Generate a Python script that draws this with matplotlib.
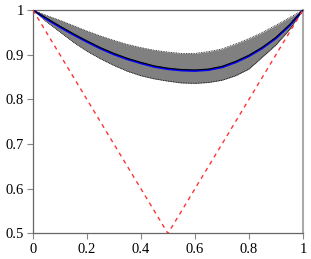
import matplotlib
matplotlib.use("Agg")
import matplotlib.pyplot as plt
from matplotlib import font_manager
import numpy as np

plt.rcParams['font.family'] = 'serif'
plt.rcParams['font.serif'] = ['Liberation Serif', 'Times New Roman', 'DejaVu Serif']

# sample points along x
xs = [0.0, 0.05, 0.1, 0.15, 0.2, 0.25, 0.3, 0.35, 0.4, 0.45, 0.5,
      0.55, 0.6, 0.65, 0.7, 0.75, 0.8, 0.85, 0.9, 0.95, 1.0]

# mean curve (blue) and the black curve drawn over it
mean_blue = [1.0, 0.980, 0.962, 0.945, 0.929, 0.914, 0.901, 0.890, 0.881, 0.873, 0.868,
             0.865, 0.864, 0.866, 0.872, 0.883, 0.897, 0.915, 0.937, 0.965, 1.0]
mean_black = [1.0, 0.982, 0.964, 0.947, 0.931, 0.916, 0.903, 0.892, 0.883, 0.875, 0.870,
              0.867, 0.866, 0.868, 0.874, 0.885, 0.899, 0.917, 0.939, 0.967, 1.0]

# band limits
upper = [1.0, 0.988, 0.977, 0.965, 0.953, 0.942, 0.932, 0.923, 0.916, 0.910, 0.906,
         0.903, 0.903, 0.907, 0.913, 0.924, 0.936, 0.950, 0.966, 0.983, 1.0]
lower = [1.0, 0.974, 0.951, 0.928, 0.908, 0.891, 0.876, 0.863, 0.853, 0.846, 0.841,
         0.837, 0.836, 0.838, 0.843, 0.853, 0.868, 0.895, 0.922, 0.956, 1.0]

# red dashed reference
ref_x = [0.0, 0.5, 1.0]
ref_y = [1.0, 0.5, 1.0]

xticks = [0, 0.2, 0.4, 0.6, 0.8, 1]
xlabels = ['0', '0.2', '0.4', '0.6', '0.8', '1']
yticks = [0.5, 0.6, 0.7, 0.8, 0.9, 1]
ylabels = ['0.5', '0.6', '0.7', '0.8', '0.9', '1']

fig = plt.figure(figsize=(3.11, 2.59), dpi=100)
ax = fig.add_axes([0.106, 0.0985, 0.868, 0.8625])

ax.fill_between(xs, lower, upper, color='#808080', lw=0, zorder=1)
ax.plot(xs, upper, color='black', lw=0.6, ls=(0, (1, 1)), zorder=2)
ax.plot(xs, lower, color='black', lw=0.6, ls=(0, (1, 1)), zorder=2)
ax.plot(xs, mean_blue, color='#0000ff', lw=1.5, zorder=3)
ax.plot(xs, mean_black, color='black', lw=0.8, zorder=4)
ax.plot(ref_x, ref_y, color='#ff3333', lw=1.0, ls=(0, (3, 3)), zorder=5)

ax.set_xlim(0, 1)
ax.set_ylim(0.5, 1)
ax.set_xticks(xticks)
ax.set_xticklabels(xlabels)
ax.set_yticks(yticks)
ax.set_yticklabels(ylabels)

ax.tick_params(direction='out', length=4.5, width=0.8, color='#888888',
               labelsize=10.5, pad=2)
for side in ['left', 'bottom', 'top']:
    ax.spines[side].set_color('#666666')
    ax.spines[side].set_linewidth(0.9)
ax.spines['right'].set_color('#aaaaaa')
ax.spines['right'].set_linewidth(1.5)

fig.savefig('out.png', dpi=100)
